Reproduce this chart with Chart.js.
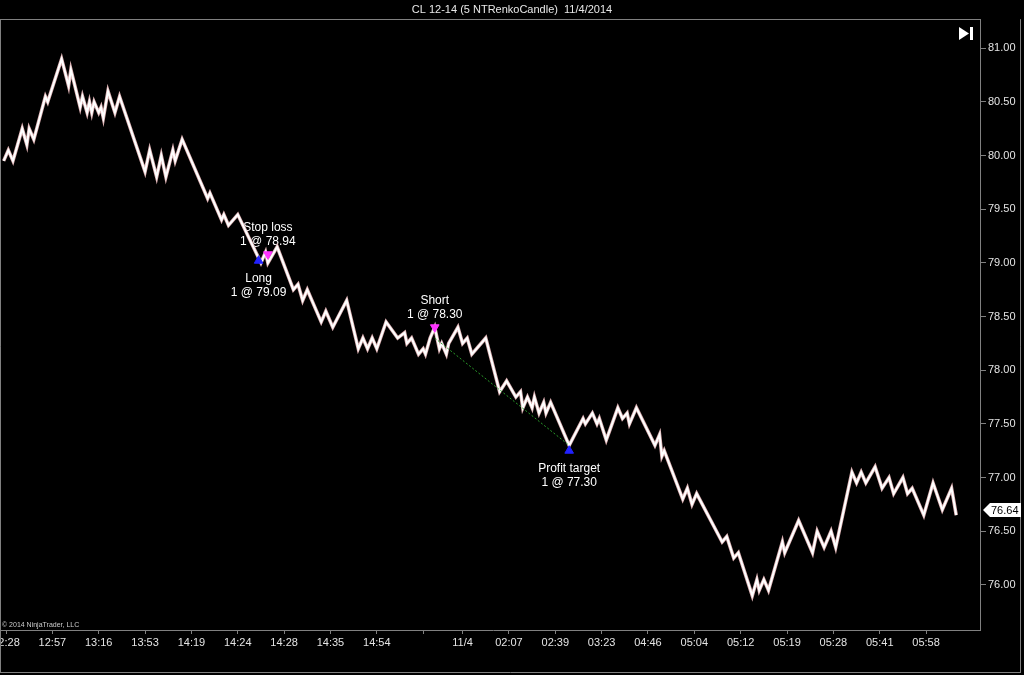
<!DOCTYPE html>
<html>
<head>
<meta charset="utf-8">
<title>CL 12-14 (5 NTRenkoCandle) 11/4/2014</title>
<script src="https://cdn.jsdelivr.net/npm/chart.js@4.4.1/dist/chart.umd.min.js"></script>
<style>
  html, body { margin: 0; padding: 0; background: #000; }
  canvas { display: block; }
</style>
</head>
<body>
<canvas id="renkoChart" width="1024" height="675"></canvas>
<script>
// turning points of the renko bricks (bar number, price)
const pivotBars = [
  -1, 1, 3, 7, 9, 10, 12, 17, 18, 24, 27, 28, 32, 33, 35, 36, 37, 38, 40, 41,
  42, 44, 47, 49, 60, 62, 65, 67, 69, 72, 73, 76, 87, 88, 93, 94, 96, 100, 110, 112,
  113, 117, 124, 126, 128, 130, 136, 138, 141, 147, 152, 154, 156, 158, 160, 164, 169, 172, 173, 175,
  178, 180, 181, 183, 185, 187, 188, 190, 191, 195, 197, 199, 201, 207, 213, 216, 220, 222, 223, 225,
  227, 228, 230, 232, 233, 235, 243, 249, 250, 253, 255, 256, 259, 264, 266, 268, 269, 272, 280, 282,
  283, 284, 292, 294, 296, 298, 309, 311, 314, 316, 322, 324, 325, 327, 329, 335, 336, 342, 348, 350,
  353, 356, 358, 365, 367, 369, 371, 375, 378, 381, 383, 387, 389, 391, 396, 400, 404, 408, 410
];
const pivotPrices = [
  79.95, 80.05, 79.95, 80.25, 80.10, 80.25, 80.15, 80.55, 80.50, 80.90, 80.65, 80.80, 80.45, 80.55, 80.40, 80.50, 80.40, 80.50, 80.40, 80.45,
  80.35, 80.60, 80.40, 80.55, 79.85, 80.05, 79.80, 80.00, 79.80, 80.05, 79.95, 80.15, 79.60, 79.65, 79.40, 79.45, 79.35, 79.45, 79.00, 79.10,
  79.00, 79.15, 78.75, 78.80, 78.65, 78.75, 78.45, 78.55, 78.40, 78.65, 78.20, 78.30, 78.20, 78.30, 78.20, 78.45, 78.30, 78.35, 78.25, 78.30,
  78.15, 78.20, 78.15, 78.30, 78.40, 78.20, 78.25, 78.15, 78.25, 78.40, 78.25, 78.30, 78.15, 78.30, 77.80, 77.90, 77.75, 77.80, 77.65, 77.75,
  77.65, 77.75, 77.60, 77.70, 77.60, 77.70, 77.30, 77.55, 77.50, 77.60, 77.50, 77.55, 77.35, 77.65, 77.55, 77.60, 77.50, 77.65, 77.30, 77.40,
  77.20, 77.25, 76.80, 76.90, 76.75, 76.85, 76.40, 76.45, 76.25, 76.30, 75.90, 76.05, 75.95, 76.05, 75.95, 76.40, 76.30, 76.60, 76.30, 76.50,
  76.35, 76.50, 76.35, 77.05, 76.95, 77.05, 76.95, 77.10, 76.90, 77.00, 76.85, 77.00, 76.85, 76.90, 76.65, 76.95, 76.70, 76.90, 76.65
];

// time labels on the bottom axis and the bar they sit under
const tickBars = [0, 20, 40, 60, 80, 100, 120, 140, 160, 180, 197, 217, 237, 257, 277, 297, 317, 337, 357, 377, 397];
const tickLabels = ["12:28", "12:57", "13:16", "13:53", "14:19", "14:24", "14:28", "14:35", "14:54", "",
  "11/4", "02:07", "02:39", "03:23", "04:46", "05:04", "05:12", "05:19", "05:28", "05:41", "05:58"];

// executions
const execNames = ["Long", "Stop loss", "Short", "Profit target"];
const execSides = ["buy", "sell", "sell", "buy"];
const execBars = [109, 113, 185, 243];
const execMarks = [79.02, 79.08, 78.40, 77.25];
const execFills = [79.09, 78.94, 78.30, 77.30];
const execQty = [1, 1, 1, 1];

// short trade line (entry -> exit)
const tradeBars = [185, 243];
const tradePrices = [78.30, 77.30];

const lastPrice = 76.64;

const GREY = "#808080";
const FONT = '"Liberation Sans", Arial, sans-serif';

Chart.defaults.font.family = FONT;
Chart.defaults.font.size = 11;
Chart.defaults.color = "#e4e4e4";

const bricks = pivotBars.map((b, i) => ({ x: b, y: pivotPrices[i] }));

// trade notes go under the bricks, like the original
const tradeNotes = {
  id: "tradeNotes",
  beforeDatasetsDraw(chart) {
    const { ctx, scales: { x, y } } = chart;
    ctx.save();
    ctx.font = "12px " + FONT;
    ctx.fillStyle = "#ffffff";
    ctx.textAlign = "center";
    ctx.textBaseline = "middle";
    execBars.forEach((b, i) => {
      const px = x.getPixelForValue(b);
      const py = y.getPixelForValue(execMarks[i]);
      const lines = [execNames[i], execQty[i] + " @ " + execFills[i].toFixed(2)];
      const offs = execSides[i] === "buy" ? [18, 32] : [-27, -13];
      ctx.fillText(lines[0], px, py + offs[0]);
      ctx.fillText(lines[1], px, py + offs[1]);
    });
    ctx.restore();
  }
};

// frame, price tag, corner icon, copyright
const decor = {
  id: "decor",
  afterDraw(chart) {
    const { ctx, chartArea: a, scales: { y } } = chart;
    const top = Math.round(a.top) + 0.5;
    const bottom = Math.round(a.bottom) + 0.5;
    ctx.save();
    ctx.strokeStyle = GREY;
    ctx.lineWidth = 1;
    ctx.beginPath();
    ctx.moveTo(0, top);
    ctx.lineTo(Math.round(a.right), top);
    ctx.moveTo(0, bottom);
    ctx.lineTo(a.left + 1, bottom);
    ctx.moveTo(0.5, a.top);
    ctx.lineTo(0.5, 673);
    ctx.moveTo(0, 672.5);
    ctx.lineTo(1021, 672.5);
    ctx.moveTo(1020.5, a.top);
    ctx.lineTo(1020.5, 673);
    ctx.stroke();

    // go-to-end button
    ctx.fillStyle = "#ffffff";
    ctx.beginPath();
    ctx.moveTo(959, 27);
    ctx.lineTo(969, 33.5);
    ctx.lineTo(959, 40);
    ctx.closePath();
    ctx.fill();
    ctx.fillRect(970, 27, 3, 13);

    // last price tag
    const ty = Math.round(y.getPixelForValue(lastPrice)) - 6;
    const tx = a.right + 3;
    ctx.beginPath();
    ctx.moveTo(tx, ty);
    ctx.lineTo(tx + 7, ty - 7);
    ctx.lineTo(tx + 38, ty - 7);
    ctx.lineTo(tx + 38, ty + 7);
    ctx.lineTo(tx + 7, ty + 7);
    ctx.closePath();
    ctx.fill();
    ctx.fillStyle = "#000000";
    ctx.font = "11px " + FONT;
    ctx.textBaseline = "middle";
    ctx.fillText(lastPrice.toFixed(2), tx + 8, ty + 1);

    ctx.fillStyle = "#cccccc";
    ctx.font = "7px " + FONT;
    ctx.textBaseline = "alphabetic";
    ctx.fillText("\u00a9 2014 NinjaTrader, LLC", 2, 627);
    ctx.restore();
  }
};

// chart.js leaves a 5px strip on the left, so the first bricks may spill into it
const spill = { left: 6, top: 0, right: 0, bottom: 0 };

new Chart(document.getElementById("renkoChart"), {
  type: "line",
  data: {
    datasets: [
      {
        data: bricks,
        borderColor: "#ffffff",
        borderWidth: 2,
        pointRadius: 0,
        tension: 0,
        clip: spill,
        order: 2
      },
      {
        data: bricks,
        borderColor: "#d9aeb0",
        borderWidth: 3.5,
        pointRadius: 0,
        tension: 0,
        clip: spill,
        order: 3
      },
      {
        data: tradeBars.map((b, i) => ({ x: b, y: tradePrices[i] })),
        borderColor: "#2a9a2a",
        borderWidth: 1,
        borderDash: [2, 2],
        pointRadius: 0,
        order: 1
      },
      {
        type: "scatter",
        data: execBars.map((b, i) => ({ x: b, y: execMarks[i] })),
        pointStyle: "triangle",
        pointRadius: 5,
        rotation: execSides.map(s => (s === "buy" ? 0 : 180)),
        backgroundColor: execSides.map(s => (s === "buy" ? "#2222ff" : "#ff33ff")),
        borderColor: execSides.map(s => (s === "buy" ? "#2222ff" : "#ff33ff")),
        order: 0
      }
    ]
  },
  options: {
    responsive: false,
    animation: false,
    plugins: {
      legend: { display: false },
      tooltip: { enabled: false },
      title: {
        display: true,
        text: "CL 12-14 (5 NTRenkoCandle)  11/4/2014",
        color: "#e8e8e8",
        font: { size: 11, weight: "normal" },
        padding: { top: 3, bottom: 3 }
      }
    },
    scales: {
      x: {
        type: "linear",
        min: 0,
        max: 420.26,
        afterBuildTicks: s => { s.ticks = tickBars.map(v => ({ value: v })); },
        afterFit: s => { s.height = 45; s.paddingLeft = 0; s.paddingRight = 0; },
        ticks: {
          autoSkip: false,
          maxRotation: 0,
          minRotation: 0,
          padding: 2,
          callback: (v, i) => tickLabels[i]
        },
        grid: { drawOnChartArea: false, tickLength: 4, color: GREY },
        border: { color: GREY }
      },
      y: {
        position: "right",
        min: 75.58,
        max: 81.27,
        afterFit: s => { s.width = 44; s.paddingTop = 0; s.paddingBottom = 0; },
        ticks: {
          stepSize: 0.5,
          includeBounds: false,
          padding: 2,
          callback: v => v.toFixed(2)
        },
        grid: { drawOnChartArea: false, tickLength: 6, color: GREY },
        border: { color: GREY }
      }
    }
  },
  plugins: [tradeNotes, decor]
});
</script>
</body>
</html>
